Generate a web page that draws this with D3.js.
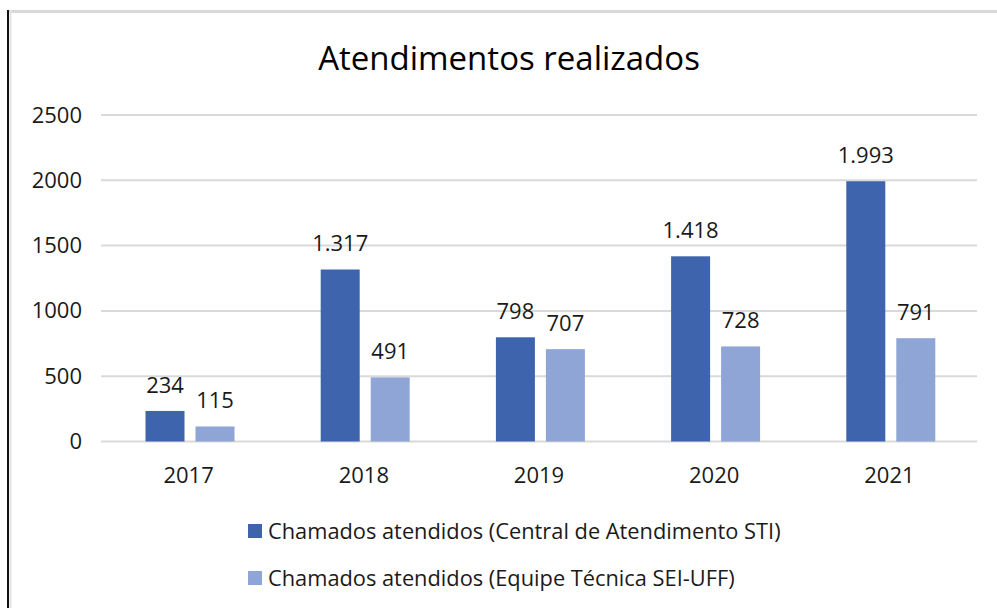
<!DOCTYPE html>
<html>
<head>
<meta charset="utf-8">
<script src="https://cdn.jsdelivr.net/npm/d3@7"></script>
<style>
  body { margin: 0; background: #fff; }
  svg { display: block; font-family: 'Open Sans', sans-serif; }
</style>
</head>
<body>
<div id="chart"></div>
<script>
// data
const years = ['2017', '2018', '2019', '2020', '2021'];
const seriesNames = [
    'Chamados atendidos (Central de Atendimento STI)',
    'Chamados atendidos (Equipe Técnica SEI-UFF)'
];
const centralSTI = [234, 1317, 798, 1418, 1993];
const equipeSEI = [115, 491, 707, 728, 791];
const yTicks = [0, 500, 1000, 1500, 2000, 2500];
const colors = ['#3d64ad', '#8fa5d6'];

const width = 997;
const height = 608;
let margin = { top: 115, right: 20, bottom: 166, left: 101 };

const ptBR = d3.formatLocale({ decimal: ',', thousands: '.', grouping: [3], currency: ['R$', ''] });
const fmt = ptBR.format(',d');

let rows = years.map((y, i) => ({ year: y, values: [centralSTI[i], equipeSEI[i]] }));

const svg = d3.select('#chart')
    .append('svg')
    .attr('width', width)
    .attr('height', height);

// frame
svg.append('line')
    .attr('x1', 7).attr('x2', width)
    .attr('y1', 11.5).attr('y2', 11.5)
    .attr('stroke', '#d9d9d9')
    .attr('stroke-width', 3);
svg.append('line')
    .attr('x1', 10.5).attr('x2', 10.5)
    .attr('y1', 10).attr('y2', height)
    .attr('stroke', '#e3e3e3')
    .attr('stroke-width', 2);
svg.append('line')
    .attr('x1', 8).attr('x2', 8)
    .attr('y1', 10).attr('y2', height)
    .attr('stroke', '#111')
    .attr('stroke-width', 2);

// title
svg.append('text')
    .attr('x', 509)
    .attr('y', 70)
    .attr('text-anchor', 'middle')
    .attr('font-size', 33)
    .attr('fill', '#000')
    .text('Atendimentos realizados');

let x = d3.scaleBand()
    .domain(years)
    .range([margin.left, 977])
    .padding(0);

let bw = x.bandwidth();
let x1 = d3.scaleBand()
    .domain([0, 1])
    .range([bw * 0.254, bw * 0.762])
    .paddingInner(0.22)
    .paddingOuter(0);

let y = d3.scaleLinear()
    .domain([0, 2500])
    .range([441.5, margin.top]);

// gridlines
svg.append('g')
    .selectAll('line')
    .data(yTicks)
    .enter()
    .append('line')
    .attr('x1', margin.left)
    .attr('x2', 977)
    .attr('y1', d => y(d))
    .attr('y2', d => y(d))
    .attr('stroke', '#d9d9d9')
    .attr('stroke-width', 2);

// y axis labels
let yAxis = (g) => g
    .attr('transform', `translate(82,0)`)
    .call(d3.axisLeft(y).tickValues(yTicks).tickSize(0).tickPadding(0).tickFormat(d3.format('d')));

svg.append('g')
    .call(yAxis)
    .call(g => g.select('.domain').remove())
    .call(g => g.selectAll('text')
        .attr('font-size', 22)
        .attr('font-family', 'Open Sans, sans-serif')
        .attr('fill', '#1a1a1a'));

// x axis labels
let xAxis = (g) => g
    .attr('transform', `translate(0,467)`)
    .call(d3.axisBottom(x).tickSize(0).tickPadding(0));

svg.append('g')
    .call(xAxis)
    .call(g => g.select('.domain').remove())
    .call(g => g.selectAll('text')
        .attr('font-size', 22)
        .attr('font-family', 'Open Sans, sans-serif')
        .attr('fill', '#1a1a1a'));

// bars
let groups = svg.selectAll('.yearGroup')
    .data(rows)
    .enter()
    .append('g')
    .attr('class', 'yearGroup')
    .attr('transform', d => `translate(${x(d.year)},0)`);

groups.selectAll('rect')
    .data(d => d.values.map((v, i) => ({ v: v, i: i })))
    .enter()
    .append('rect')
    .attr('x', d => x1(d.i))
    .attr('y', d => y(d.v))
    .attr('width', x1.bandwidth())
    .attr('height', d => y(0) - y(d.v))
    .attr('fill', d => colors[d.i]);

groups.selectAll('.valLabel')
    .data(d => d.values.map((v, i) => ({ v: v, i: i })))
    .enter()
    .append('text')
    .attr('class', 'valLabel')
    .attr('x', d => x1(d.i) + x1.bandwidth() / 2)
    .attr('y', d => y(d.v) - 18)
    .attr('text-anchor', 'middle')
    .attr('font-size', 22)
    .attr('fill', '#1a1a1a')
    .text(d => fmt(d.v));

// legend
let legend = svg.selectAll('.legendItem')
    .data(seriesNames)
    .enter()
    .append('g')
    .attr('class', 'legendItem')
    .attr('transform', (d, i) => `translate(248,${531 + i * 47})`);

legend.append('rect')
    .attr('x', 0)
    .attr('y', -7)
    .attr('width', 14)
    .attr('height', 14)
    .attr('fill', (d, i) => colors[i]);

legend.append('text')
    .attr('x', 20)
    .attr('y', 8)
    .attr('font-size', 21.8)
    .attr('fill', '#1a1a1a')
    .text(d => d);
</script>
</body>
</html>
